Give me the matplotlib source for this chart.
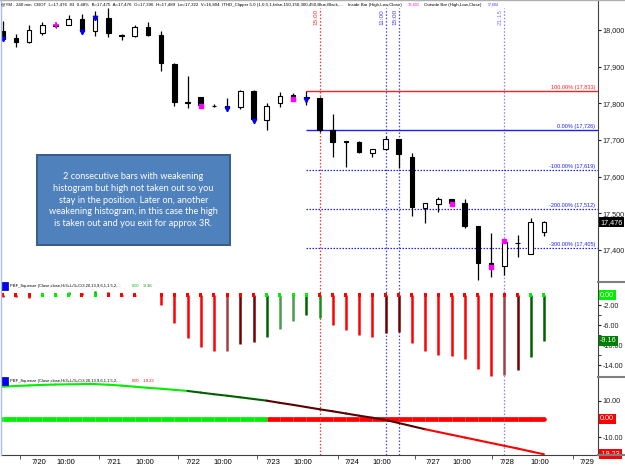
import matplotlib.pyplot as plt
import numpy as np
from matplotlib.lines import Line2D
from matplotlib.patches import Rectangle

# ---- data ----
# 240 min candles of @YM
opens  = [17998, 17978, 17966, 17992, 18013, 18013, 18031, 17996, 18032, 17987,
          17983, 18008, 17986, 17908, 17805, 17816, 17793, 17793, 17789, 17834,
          17755, 17800, 17823, 17816, 17814, 17726, 17696, 17695, 17665, 17675,
          17702, 17654, 17514, 17525, 17538, 17527, 17465, 17364, 17356, 17419,
          17389, 17450]
highs  = [18025, 17989, 18014, 18022, 18020, 18042, 18044, 18051, 18059, 17989,
          18013, 18022, 17998, 17909, 17875, 17817, 17798, 17814, 17836, 17836,
          17800, 17832, 17829, 17833, 17816, 17771, 17698, 17698, 17675, 17711,
          17703, 17664, 17529, 17545, 17540, 17539, 17465, 17446, 17423, 17441,
          17486, 17480]
lows   = [17970, 17953, 17965, 17985, 18006, 18013, 17992, 17983, 17982, 17972,
          17980, 17983, 17889, 17793, 17786, 17795, 17789, 17782, 17784, 17746,
          17727, 17789, 17812, 17795, 17722, 17654, 17627, 17664, 17654, 17673,
          17623, 17493, 17473, 17504, 17527, 17460, 17318, 17327, 17332, 17382,
          17389, 17438]
closes = [17976, 17967, 18001, 18013, 18012, 18030, 17996, 18033, 17991, 17984,
          18008, 17987, 17909, 17804, 17800, 17795, 17792, 17786, 17834, 17756,
          17794, 17821, 17814, 17814, 17727, 17695, 17695, 17666, 17675, 17702,
          17661, 17516, 17529, 17538, 17529, 17465, 17365, 17357, 17423, 17418,
          17477, 17476]

# ITHD clipper / inside-outside bar markers
blue_idx = [0, 6, 7, 17, 19, 23]
blue_px = [17975, 17994, 18033, 17784, 17752, 17810]
mag_idx = [15, 22, 34, 37, 38]
mag_px = [17793, 17811, 17526, 17354, 17424]
cross_idx, cross_px = 4, 18013

# fibonacci levels
fib_levels = [17833, 17726, 17619, 17512, 17405]
fib_labels = ['100.00% (17,833)', '0.00% (17,726)', '-100.00% (17,619)',
              '-200.00% (17,512)', '-300.00% (17,405)']
fib_start = 23

# vertical time markers
vmark_idx = [24, 29, 30, 38]
vmark_txt = ['15:00', '11:00', '15:00', '21:15']

# PBF_Squeeze histogram
hist = [-0.3, -0.3, -0.5, -0.1, -0.1, 0.6, 0.4, 0.8, 0.6, -0.1,
        -0.1, 0.0, -2.0, -5.5, -8.5, -10.3, -11.1, -11.1, -9.7, -9.3,
        -8.3, -6.7, -5.1, -3.9, -4.5, -5.9, -6.9, -8.0, -8.3, -7.5,
        -7.3, -9.5, -11.2, -12.0, -12.2, -12.7, -14.7, -16.1, -15.9, -14.9,
        -12.3, -9.16]
hist_state = ['r', 'r', 'r', 'G', 'G', 'g', 'r', 'g', 'd', 'r',
              'r', 'r', 'r', 'r', 'r', 'r', 'r', 'b', 'd', 'd',
              'D', 'm', 'm', 'D', 'g', 'r', 'r', 'r', 'r', 'd',
              'd', 'r', 'r', 'r', 'r', 'r', 'r', 'r', 'b', 'd',
              'D', 'D']
dot_state = ['r', 'r', 'r', 'G', 'G', 'G', 'r', 'G', 'r', 'r',
             'r', '', 'r', 'r', 'r', 'r', 'r', 'r', 'r', 'r',
             'G', 'G', 'G', 'G', 'r', 'r', 'r', 'r', 'r', 'r',
             'r', 'r', 'r', 'r', 'r', 'r', 'r', 'r', 'r', 'r',
             'G', 'G']

# PBF_Squeeze line
sq_line = [17.6, 18.0, 18.3, 18.6, 18.8, 18.9, 19.0, 19.0, 18.7, 18.2,
           17.6, 17.0, 16.5, 15.9, 15.3, 14.4, 13.5, 12.7, 11.8, 10.9,
           10.0, 8.8, 7.7, 6.5, 5.3, 4.2, 3.0, 1.8, 0.7, -0.5,
           -2.2, -3.9, -5.6, -7.1, -8.6, -10.1, -11.6, -13.1, -14.6, -16.1,
           -17.7, -19.23]
line_state = ['G'] * 14 + ['D'] * 6 + ['k'] * 12 + ['r'] * 10
zero_state = ['G'] * 20 + ['r'] * 22

date_pos = [2.75, 4.8, 8.43, 10.78, 14.4, 16.7, 20.5, 22.75, 26.5, 28.7,
            32.6, 34.8, 38.2, 40.7, 44.3]
date_lbl = ['7/20', '10:00', '7/21', '10:00', '7/22', '10:00', '7/23', '10:00',
            '7/24', '10:00', '7/27', '10:00', '7/28', '10:00', '7/29']
day_ticks = [1.31, 7.3, 13.28, 19.3, 25.4, 31.2, 37.1, 43.2]

note = ("2 consecutive bars with weakening\n"
        "histogram but high not taken out so you\n"
        "stay in the position. Later on, another\n"
        "weakening histogram, in this case the high\n"
        "is taken out and you exit for approx 3R.")

COL = {'r': '#ff0000', 'd': '#6e0000', 'b': '#a04040', 'g': '#1e8c1e',
       'D': '#006000', 'm': '#4c9a4c', 'G': '#00ee00', 'k': '#5a0000'}

# ---- layout ----
W, H = 625, 469
fig = plt.figure(figsize=(W / 100, H / 100), dpi=100)
fig.patch.set_facecolor('white')
plt.rcParams['font.family'] = 'Liberation Sans'
renderer = fig.canvas.get_renderer()

X0, DX = 2.7, 13.2   # pixel centre of bar 0, pixels per bar
AXFS = 5.2


def px2i(px):
    return (px - X0) / DX


XL = (px2i(1), px2i(598))


def add_ax(top, bottom):
    a = fig.add_axes([1 / W, 1 - bottom / H, 597 / W, (bottom - top) / H])
    a.set_xlim(*XL)
    for s in ['top', 'left', 'bottom']:
        a.spines[s].set_visible(False)
    a.spines['right'].set_color('#404040')
    a.yaxis.tick_right()
    a.set_xticks([])
    a.tick_params(axis='y', labelsize=AXFS, length=2, pad=1.2, colors='#202020')
    return a


def ftxt(xpx, ypx, s, width=None, **kw):
    # tiny platform text, squeezed to the width it takes in the screenshot
    t = fig.text(xpx / W, 1 - ypx / H, s, va='center', fontsize=5, **kw)
    if width:
        bb = t.get_window_extent(renderer)
        t.set_fontsize(5 * width / bb.width)
    return t


def value_box(ax, val, txt, fc):
    ax.annotate(txt, xy=(1, val), xycoords=('axes fraction', 'data'),
                xytext=(1.5, 0), textcoords='offset points', ha='left', va='center',
                fontsize=AXFS, color='white', annotation_clip=False, zorder=10,
                bbox=dict(boxstyle='square,pad=0.2', fc=fc, ec='none'))


ax1 = add_ax(0, 282)
ax2 = add_ax(282, 377)
ax3 = add_ax(377, 455)
ax1.set_ylim(17312.8, 18081.8)
ax2.set_ylim(-16.4, 2.6)
ax3.set_ylim(-19.64, 22.9)

idx = np.arange(len(opens))
o, h, l, c = map(np.array, (opens, highs, lows, closes))

# ---- price panel ----
ax1.vlines(idx, l, h, color='black', lw=0.9, zorder=3)
fills = ['black' if cc < oo else 'white' for oo, cc in zip(o, c)]
ax1.bar(idx, np.maximum(np.abs(c - o), 1.0), bottom=np.minimum(o, c), width=0.36,
        color=fills, edgecolor='black', lw=0.8, zorder=4)
ax1.plot(blue_idx, blue_px, 'v', color='#0000ff', ms=3.2, zorder=5)
ax1.plot(mag_idx, mag_px, 's', color='#ff00ff', ms=2.2, zorder=5)
ax1.plot([cross_idx], [cross_px], '+', color='#ff00ff', ms=5, mew=1.2, zorder=5)

for k, (lev, txt) in enumerate(zip(fib_levels, fib_labels)):
    col = '#ff2020' if k == 0 else '#2020ff'
    ls = '-' if k < 2 else (0, (1.2, 1.2))
    ax1.hlines(lev, fib_start, XL[1], color=col, lw=1 if k < 2 else 0.9, ls=ls, zorder=2)
    ax1.text(px2i(595), lev + 3, txt, color=col, fontsize=4, ha='right', va='bottom')

ax1.set_yticks([17400, 17500, 17600, 17700, 17800, 17900, 18000])
ax1.set_yticklabels([f'{v:,}' for v in ax1.get_yticks().astype(int)])

for k, (i, t) in enumerate(zip(vmark_idx, vmark_txt)):
    col = '#ff3030' if k == 0 else ('#4040ff' if k < 3 else '#8080ff')
    ax1.axvline(i, ymin=0, ymax=0.97, color=col, lw=0.9, ls=(0, (1.2, 1.5)), zorder=1)
    ax2.axvline(i, color=col, lw=0.9, ls=(0, (1.2, 1.5)), zorder=1)
    ax3.axvline(i, color=col, lw=0.9, ls=(0, (1.2, 1.5)), zorder=1)
    ax1.text(i - 0.1, 18057, t, color=col, fontsize=4.6, rotation=90,
             ha='right', va='top')

value_box(ax1, closes[-1], f'{closes[-1]:,}', 'black')

# note box
ax1.add_patch(Rectangle((px2i(37), 17312.8 + (282 - 245) / 0.3667), px2i(230) - px2i(37),
                        (245 - 155) / 0.3667, facecolor='#4f81bd', edgecolor='#385d8a',
                        lw=1.4, zorder=6))
ax1.text((px2i(37) + px2i(230)) / 2, 18000 - (200 - 30) / 0.3667, note, color='white',
         fontsize=6.6, family='Lato', ha='center', va='center', linespacing=1.38,
         zorder=7)

# ---- histogram panel ----
ax2.vlines(idx, 0, hist, colors=[COL[s] for s in hist_state], lw=1.8, zorder=2)
dots = [i for i in idx if dot_state[i]]
ax2.scatter(dots, [0] * len(dots), marker='s', s=5,
            c=[COL[dot_state[i]] for i in dots], zorder=3, linewidths=0)
ax2.set_yticks([-2, -6, -10, -14])
ax2.set_yticklabels(['-2.00', '-6.00', '-10.00', '-14.00'])
ax2.set_yticks([-4, -8, -12], minor=True)
ax2.tick_params(axis='y', which='minor', length=2, colors='#202020')
value_box(ax2, 0, '0.00', '#00ee00')
value_box(ax2, hist[-1], f'{hist[-1]:.2f}', '#008000')

# ---- squeeze line panel ----
ax3.hlines(0, XL[0], 0, color=COL[zero_state[0]], lw=3.4)
for i in range(1, len(idx)):
    ax3.plot([i - 1, i], [0, 0], color=COL[zero_state[i - 1]], lw=3.4,
             solid_capstyle='round' if i == len(idx) - 1 else 'butt')
    ax3.plot([i - 1, i], [sq_line[i - 1], sq_line[i]], color=COL[line_state[i - 1]],
             lw=1.5, solid_capstyle='round', zorder=3)
ax3.set_yticks([-10, 10])
ax3.set_yticklabels(['-10.00', '10.00'])
value_box(ax3, 0, '0.00', '#ff0000')
value_box(ax3, sq_line[-1], f'{sq_line[-1]:.2f}', '#ff0000')

ax3.spines['bottom'].set_visible(True)
ax3.spines['bottom'].set_color('#404040')
ax3.set_xticks(date_pos)
ax3.set_xticklabels(date_lbl, fontsize=5.5)
ax3.tick_params(axis='x', which='major', length=0, pad=3)
ax3.set_xticks(day_ticks, minor=True)
ax3.tick_params(axis='x', which='minor', length=3, color='#404040')

# ---- header and indicator titles ----
ftxt(1, 5, '@YM - 240 min  CBOT  L=17,476  83  0.48%  B=17,475  A=17,476  O=17,396  '
     'H=17,489  Lo=17,322  V=16,804  ITHD_Clipper 5.0 (1,0,5,1,false,150,150,300,450,Blue,Black,...',
     width=343)
ftxt(348, 5, 'Inside Bar (High,Low,Close)', width=55)
ftxt(408, 5, '17,401', width=12, color='#ff00ff')
ftxt(424, 5, 'Outside Bar (High,Low,Close)', width=59)
ftxt(488, 5, '17,604', width=11, color='#2020ff')

for ypx, v1, v2, col1, col2 in [(286, '0.00', '-9.16', '#00c000', '#008000'),
                                (381, '0.00', '-19.23', '#ff0000', '#ff0000')]:
    fig.add_artist(Rectangle((1 / W, 1 - (ypx + 4) / H), 7 / W, 8 / H,
                             transform=fig.transFigure, facecolor='#0000ff',
                             edgecolor='#000080', lw=0.5))
    ftxt(10, ypx, 'PBF_Squeeze (Close,close,H/3+L/3+C/3,20,13,9,6,1,1.5,2,...', width=115)
    ftxt(132, ypx, v1, width=8, color=col1)
    ftxt(143, ypx, v2, width=10 if len(v2) < 6 else 12, color=col2)

# frame lines
for ypx in [282, 377, 455]:
    fig.add_artist(Line2D([598 / W, 1], [1 - ypx / H] * 2, transform=fig.transFigure,
                          color='#808080', lw=1.5))
fig.add_artist(Line2D([0, 1], [1 - 0.5 / H] * 2, transform=fig.transFigure,
                      color='#b0b0b0', lw=1))
fig.add_artist(Line2D([0.5 / W] * 2, [1 - 455 / H, 1], transform=fig.transFigure,
                      color='#a8c0e0', lw=1))

fig.savefig('out.png', dpi=100)
